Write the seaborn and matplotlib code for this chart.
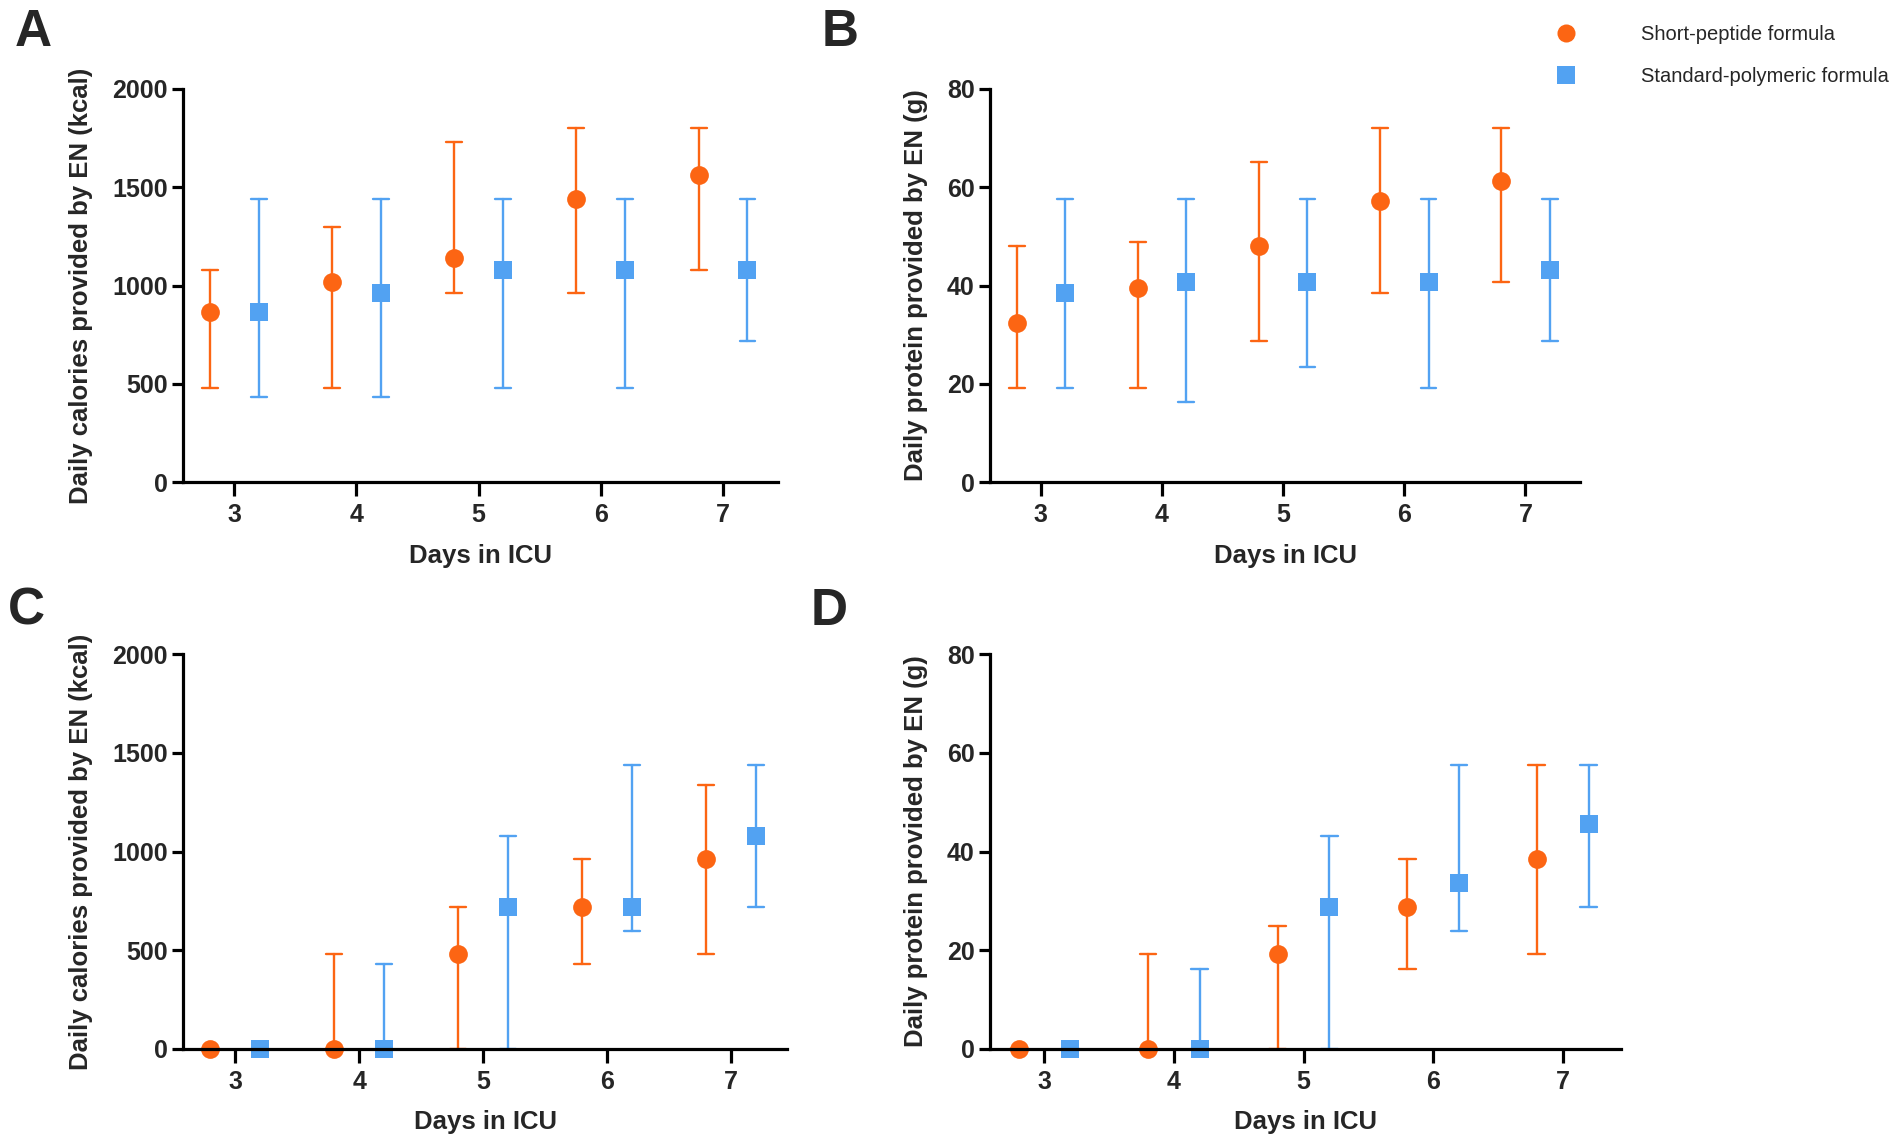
import numpy as np
import pandas as pd
import matplotlib.pyplot as plt
from matplotlib.lines import Line2D
import seaborn as sns

sns.set_style("ticks")
plt.rcParams['font.family'] = ['Liberation Sans', 'DejaVu Sans']

# Days in ICU and the two groups
days = [3, 4, 5, 6, 7]
groups = ['Short-peptide formula', 'Standard-polymeric formula']

# A - calories, all patients (median, lower and upper IQR)
a_sp_med = [864, 1020, 1140, 1440, 1560]
a_sp_lo = [480, 480, 960, 960, 1080]
a_sp_hi = [1080, 1296, 1728, 1800, 1800]
a_st_med = [864, 960, 1080, 1080, 1080]
a_st_lo = [432, 432, 480, 480, 720]
a_st_hi = [1440, 1440, 1440, 1440, 1440]

# B - protein, all patients
b_sp_med = [32.4, 39.5, 48.0, 57.3, 61.2]
b_sp_lo = [19.2, 19.2, 28.8, 38.4, 40.8]
b_sp_hi = [48.0, 48.8, 65.2, 72.0, 72.0]
b_st_med = [38.4, 40.8, 40.8, 40.8, 43.2]
b_st_lo = [19.2, 16.2, 23.4, 19.2, 28.8]
b_st_hi = [57.6, 57.6, 57.6, 57.6, 57.6]

# C - calories, second group of patients
c_sp_med = [0, 0, 480, 720, 960]
c_sp_lo = [0, 0, 0, 432, 480]
c_sp_hi = [0, 480, 720, 960, 1335]
c_st_med = [0, 0, 720, 720, 1080]
c_st_lo = [0, 0, 0, 600, 720]
c_st_hi = [0, 432, 1080, 1440, 1440]

# D - protein, second group of patients
d_sp_med = [0, 0, 19.2, 28.8, 38.4]
d_sp_lo = [0, 0, 0, 16.3, 19.2]
d_sp_hi = [0, 19.2, 25.0, 38.4, 57.6]
d_st_med = [0, 0, 28.8, 33.6, 45.6]
d_st_lo = [0, 0, 0, 24.0, 28.8]
d_st_hi = [0, 16.3, 43.2, 57.6, 57.6]

colors = ['#FC6513', '#52A2F2']


def long_table(sp, st):
    # three rows per point (lo, median, hi) -> median estimator + min/max bars
    rows = []
    for grp, (med, lo, hi) in zip(groups, [sp, st]):
        for d, m, l, h in zip(days, med, lo, hi):
            for v in (l, m, h):
                rows.append({'Day': d, 'Group': grp, 'Value': v})
    return pd.DataFrame(rows)


panels = [
    ('A', long_table((a_sp_med, a_sp_lo, a_sp_hi), (a_st_med, a_st_lo, a_st_hi)),
     'Daily calories provided by EN (kcal)', 2000, 500),
    ('B', long_table((b_sp_med, b_sp_lo, b_sp_hi), (b_st_med, b_st_lo, b_st_hi)),
     'Daily protein provided by EN (g)', 80, 20),
    ('C', long_table((c_sp_med, c_sp_lo, c_sp_hi), (c_st_med, c_st_lo, c_st_hi)),
     'Daily calories provided by EN (kcal)', 2000, 500),
    ('D', long_table((d_sp_med, d_sp_lo, d_sp_hi), (d_st_med, d_st_lo, d_st_hi)),
     'Daily protein provided by EN (g)', 80, 20),
]

W, H = 1902, 1146
fig = plt.figure(figsize=(W / 100, H / 100), dpi=100)

# axes boxes in pixels: left, top, right, bottom
boxes = {
    'A': (183, 89, 778, 482),
    'B': (990, 89, 1580, 482),
    'C': (183, 654, 787, 1049),
    'D': (990, 654, 1621, 1049),
}
letters = {'A': (0.008, 0.960), 'B': (0.432, 0.960), 'C': (0.004, 0.455), 'D': (0.426, 0.455)}

for name, df, ylab, ymax, ystep in panels:
    l, t, r, b = boxes[name]
    ax = fig.add_axes([l / W, 1 - b / H, (r - l) / W, (b - t) / H])
    sns.pointplot(data=df, x='Day', y='Value', hue='Group', hue_order=groups,
                  estimator='median', errorbar=lambda v: (v.min(), v.max()),
                  palette=colors, markers=['o', 's'], linestyles=['none', 'none'],
                  dodge=0.4, capsize=0.13, err_kws={'linewidth': 1.7},
                  markersize=13.5, markeredgewidth=0, legend=False, ax=ax)
    for ln in ax.lines:
        ln.set_clip_on(False)
    ax.set_xlim(-0.42, 4.45)
    ax.set_ylim(0, ymax)
    ax.set_yticks(np.arange(0, ymax + 1, ystep))
    sns.despine(ax=ax)
    for s in ['left', 'bottom']:
        ax.spines[s].set_linewidth(2.3)
        ax.spines[s].set_color('black')
    ax.tick_params(direction='out', width=2.3, color='black', labelsize=18)
    ax.tick_params(axis='x', length=10, pad=5)
    ax.tick_params(axis='y', length=8, pad=3)
    for lab in ax.get_xticklabels() + ax.get_yticklabels():
        lab.set_fontweight('bold')
    ax.set_xlabel('Days in ICU', fontsize=18.5, fontweight='bold', labelpad=12)
    ax.set_ylabel(ylab, fontsize=18.5, fontweight='bold', labelpad=14)
    fig.text(letters[name][0], letters[name][1], name, fontsize=37,
             fontweight='bold', va='baseline', ha='left')

handles = [Line2D([], [], linestyle='none', marker=m, color=c, markersize=13,
                  markeredgewidth=0) for m, c in zip(['o', 's'], colors)]
fig.legend(handles, groups, loc='upper left', bbox_to_anchor=(0.818, 0.978),
           frameon=False, fontsize=14.5, handlelength=1, handletextpad=3.25,
           labelspacing=1.15, borderpad=0, borderaxespad=0)

fig.savefig('out.png', dpi=100)
